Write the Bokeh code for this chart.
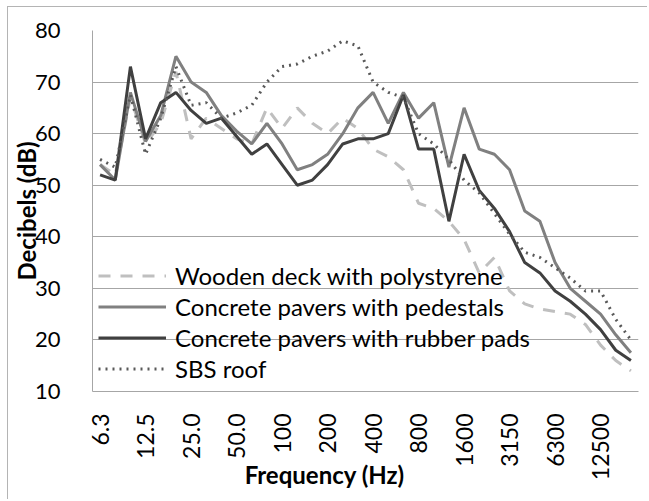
import math
from bokeh.plotting import figure
from bokeh.models import Range1d, FixedTicker, Legend, LegendItem
from bokeh.embed import file_html
from bokeh.resources import INLINE

frequencies = ["6.3", "8.0", "10.0", "12.5", "16.0", "20.0", "25.0", "31.5", "40.0", "50.0",
               "63.0", "80.0", "100", "125", "160", "200", "250", "315", "400", "500",
               "630", "800", "1000", "1250", "1600", "2000", "2500", "3150", "4000", "5000",
               "6300", "8000", "10000", "12500", "16000", "20000"]
shown_labels = ["6.3", "12.5", "25.0", "50.0", "100", "200", "400", "800", "1600", "3150", "6300", "12500"]
y_ticks = [10, 20, 30, 40, 50, 60, 70, 80]

wooden_deck = [54, 52, 67, 58, 62, 72, 59, 63, 61, 59, 58, 65, 61, 65, 62, 60, 63, 61, 57, 55.5,
               53, 46.5, 45.5, 43, 39.5, 33, 36, 29.5, 27, 26, 25.5, 25, 23, 19, 16, 14]
pedestals = [54, 51, 68, 58.5, 63.5, 75, 70, 68, 63.5, 60.5, 58, 62, 58, 53, 54, 56, 60, 65, 68, 62,
             68, 63, 66, 53.5, 65, 57, 56, 53, 45, 43, 35, 30, 27.5, 25, 21, 17.5]
rubber_pads = [52, 51, 73, 59, 66, 68, 64.5, 62, 63, 59.5, 56, 58, 54, 50, 51, 54, 58, 59, 59, 60,
               67.5, 57, 57, 43, 56, 49, 45.5, 41, 35, 33, 29.5, 27.5, 25, 22, 18, 16]
sbs_roof = [55, 53.5, 67.5, 56, 63, 73, 65.5, 66, 63, 64, 65.5, 70, 73, 73.5, 75, 76, 78, 77, 70, 68,
            67, 60, 58, 55, 51, 48.5, 44.5, 40.5, 37, 36, 34, 32, 29.5, 29.5, 24, 20]

series_names = ["Wooden deck with polystyrene", "Concrete pavers with pedestals",
                "Concrete pavers with rubber pads", "SBS roof"]

FONT = "Lato"
x_idx = list(range(len(frequencies)))

p = figure(x_range=Range1d(-0.5, len(frequencies) - 0.5), y_range=Range1d(10, 80),
           width=640, height=493, output_backend="svg", toolbar_location=None,
           min_border_left=80, min_border_right=10, min_border_top=23, min_border_bottom=109,
           background_fill_color="white", border_fill_color="white")
p.margin = (7, 0, 0, 8)
p.styles = {"box-shadow": "-1px -1px 0 0 #b4b4b4"}
p.outline_line_color = None

r1 = p.line(x_idx, wooden_deck, line_color="#bfbfbf", line_width=3, line_dash="12 10")
r2 = p.line(x_idx, pedestals, line_color="#808080", line_width=3)
r3 = p.line(x_idx, rubber_pads, line_color="#404040", line_width=3)
r4 = p.line(x_idx, sbs_roof, line_color="#595959", line_width=3, line_dash="2 5")

p.xgrid.grid_line_color = None
p.ygrid.grid_line_color = "#a6a6a6"
p.ygrid.grid_line_width = 1
p.yaxis.ticker = FixedTicker(ticks=y_ticks)
p.xaxis.ticker = FixedTicker(ticks=[frequencies.index(s) for s in shown_labels])

for ax in p.yaxis:
    ax.axis_line_color = "#a6a6a6"
    ax.major_tick_line_color = None
    ax.minor_tick_line_color = None
    ax.major_label_standoff = 26
    ax.major_label_text_font = FONT
    ax.major_label_text_font_size = "22px"
    ax.major_label_text_color = "black"
    ax.axis_label = "Decibels (dB)"
    ax.axis_label_standoff = -9
    ax.axis_label_text_font = FONT
    ax.axis_label_text_font_style = "bold"
    ax.axis_label_text_font_size = "24px"
    ax.axis_label_text_color = "black"

for ax in p.xaxis:
    ax.axis_line_color = "#a6a6a6"
    ax.major_tick_line_color = None
    ax.minor_tick_line_color = None
    ax.major_label_orientation = math.pi / 2
    ax.major_label_standoff = 16
    ax.major_label_text_font = FONT
    ax.major_label_text_font_size = "23px"
    ax.major_label_text_color = "black"
    ax.major_label_overrides = {frequencies.index(s): s for s in shown_labels}
    ax.axis_label = "Frequency (Hz)" + "\u00a0" * 14
    ax.axis_label_standoff = -23
    ax.axis_label_text_font = FONT
    ax.axis_label_text_font_style = "bold"
    ax.axis_label_text_font_size = "24px"
    ax.axis_label_text_color = "black"

legend = Legend(items=[LegendItem(label=n, renderers=[r]) for n, r in zip(series_names, [r1, r2, r3, r4])],
                location=(6, 7), orientation="vertical",
                glyph_width=68, glyph_height=31, label_height=31, spacing=0,
                padding=0, margin=0, label_standoff=9,
                label_text_font=FONT, label_text_font_size="24px", label_text_color="black",
                background_fill_alpha=0, border_line_alpha=0)
p.add_layout(legend, "center")

open("out.html", "w").write(file_html(p, INLINE))
